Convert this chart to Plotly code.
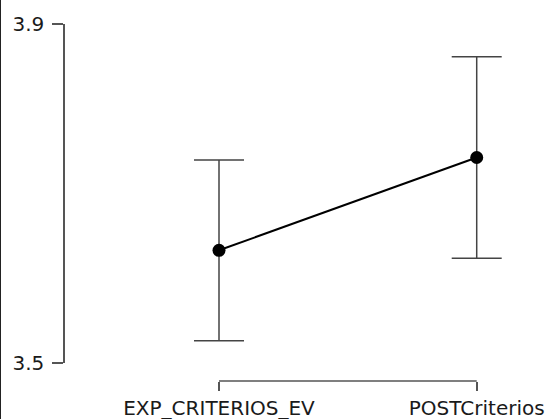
import plotly.graph_objects as go

# Descriptive means with 95% confidence intervals for two conditions
conditions = ["EXP_CRITERIOS_EV", "POSTCriterios"]
means = [3.633, 3.7425]
ci_half = [0.1066, 0.119]

y_ticks = [3.5, 3.9]
y_ticklabels = ["3.5", "3.9"]

axis_color = "#555555"
font = dict(family="DejaVu Sans", size=20, color="#1a1a1a")

x_pos = list(range(len(conditions)))

fig = go.Figure()
fig.add_trace(go.Scatter(
    x=x_pos,
    y=means,
    mode="lines+markers",
    line=dict(color="black", width=2),
    marker=dict(color="black", size=13),
    error_y=dict(type="data", array=ci_half, visible=True,
                 color="#444444", thickness=1.5, width=25),
    cliponaxis=False,
    showlegend=False,
))

# Bracket-style x axis line spanning only the categories
fig.add_shape(type="line", xref="x", yref="paper",
              x0=x_pos[0], x1=x_pos[-1], y0=0, y1=0,
              line=dict(color=axis_color, width=1.5))

# Thin frame line on the left edge of the canvas
fig.add_shape(type="line", xref="paper", yref="paper",
              x0=-64.5 / 485, x1=-64.5 / 485, y0=-38 / 357, y1=1 + 24 / 357,
              line=dict(color="#222222", width=1))

fig.update_layout(
    width=550, height=419,
    margin=dict(l=65, r=0, t=24, b=38, autoexpand=False),
    paper_bgcolor="white", plot_bgcolor="white",
    font=font,
    xaxis=dict(
        range=[-0.5976, 1.2844], domain=[0, 1],
        anchor="free", position=0, automargin=False,
        tickvals=x_pos, ticktext=conditions,
        ticks="outside", ticklen=9, tickwidth=1.5, tickcolor=axis_color,
        showline=False, showgrid=False, zeroline=False,
        tickfont=font,
    ),
    yaxis=dict(
        range=[3.5, 3.9], domain=[18 / 357, 1], automargin=False,
        tickvals=y_ticks, ticktext=y_ticklabels,
        ticks="outside", ticklen=11, tickwidth=1.5, tickcolor=axis_color,
        ticklabelstandoff=4,
        showline=True, linecolor=axis_color, linewidth=1.5,
        showgrid=False, zeroline=False,
        tickfont=font,
    ),
)

fig.write_html("out.html")
